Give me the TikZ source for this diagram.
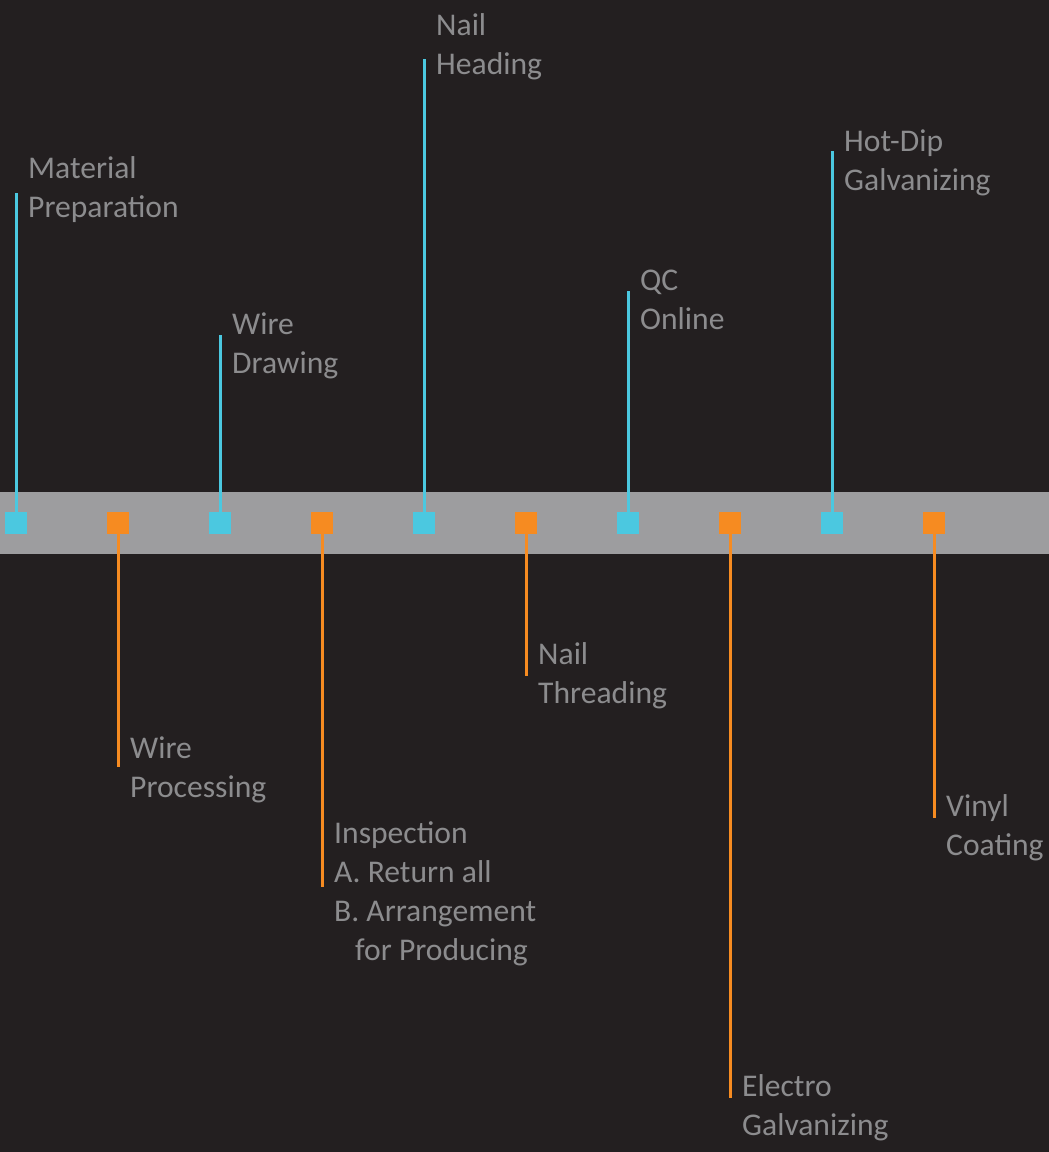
\documentclass[tikz,border=0pt]{standalone}
\usepackage{fontspec}
\setmainfont{Carlito}
\definecolor{bgc}{HTML}{231F20}
\definecolor{bandc}{HTML}{9D9D9F}
\definecolor{cyc}{HTML}{4BC8E0}
\definecolor{orc}{HTML}{F68B21}
\definecolor{txc}{HTML}{8C8C8E}
\begin{document}
\begin{tikzpicture}[x=1pt,y=-1pt,
  sqc/.style={fill=cyc,draw=none,minimum size=22pt,inner sep=0pt},
  sqo/.style={fill=orc,draw=none,minimum size=22pt,inner sep=0pt},
  lnc/.style={draw=cyc,line width=3pt},
  lno/.style={draw=orc,line width=3pt},
  lbl/.style={text=txc,anchor=base west,align=left,inner sep=0pt,font=\fontsize{31.6}{38.7}\selectfont}]
\fill[bgc] (0,0) rectangle (1049,1152);
\useasboundingbox (0,0) rectangle (1049,1152);
\fill[bandc] (0,492) rectangle (1049,554);
% squares
\node[sqc] (s1) at (16,523) {};
\node[sqo] (s2) at (118,523) {};
\node[sqc] (s3) at (220,523) {};
\node[sqo] (s4) at (322,523) {};
\node[sqc] (s5) at (424,523) {};
\node[sqo] (s6) at (526,523) {};
\node[sqc] (s7) at (628,523) {};
\node[sqo] (s8) at (730,523) {};
\node[sqc] (s9) at (832,523) {};
\node[sqo] (s10) at (934,523) {};
% line ends
\coordinate (e1) at (16,193);
\coordinate (e2) at (118,767);
\coordinate (e3) at (220,335);
\coordinate (e4) at (322,887);
\coordinate (e5) at (424,59);
\coordinate (e6) at (526,676);
\coordinate (e7) at (628,291);
\coordinate (e8) at (730,1098);
\coordinate (e9) at (832,151);
\coordinate (e10) at (934,818);
\draw[lnc] (s1.north) -- (e1);
\draw[lno] (s2.south) -- (e2);
\draw[lnc] (s3.north) -- (e3);
\draw[lno] (s4.south) -- (e4);
\draw[lnc] (s5.north) -- (e5);
\draw[lno] (s6.south) -- (e6);
\draw[lnc] (s7.north) -- (e7);
\draw[lno] (s8.south) -- (e8);
\draw[lnc] (s9.north) -- (e9);
\draw[lno] (s10.south) -- (e10);
% labels (anchor = baseline of last line)
\node[lbl] (l1) at (28,217) {Material\\Preparation};
\node[lbl] (l2) at (130,797) {Wire\\Processing};
\node[lbl] (l3) at (232,373) {Wire\\Drawing};
\node[lbl] (l4) at (334,960) {Inspection\\A. Return all\\B. Arrangement\\\hspace*{21pt}for Producing};
\node[lbl] (l5) at (436,74) {Nail\\Heading};
\node[lbl] (l6) at (538,703) {Nail\\Threading};
\node[lbl] (l7) at (640,329) {QC\\Online};
\node[lbl] (l8) at (742,1135) {Electro\\Galvanizing};
\node[lbl] (l9) at (844,190) {Hot-Dip\\Galvanizing};
\node[lbl] (l10) at (946,855) {Vinyl\\Coating};
\end{tikzpicture}
\end{document}
